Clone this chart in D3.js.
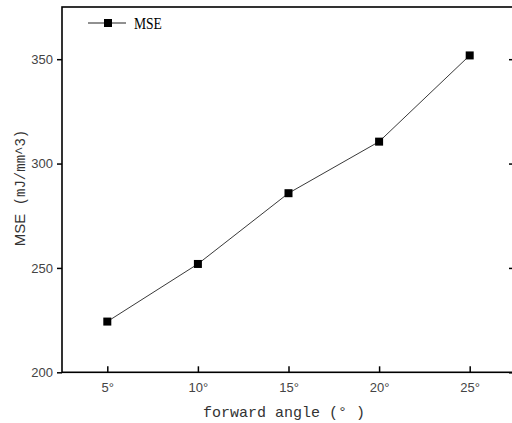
<!DOCTYPE html>
<html>
<head>
<meta charset="utf-8">
<script src="https://cdn.jsdelivr.net/npm/d3@7"></script>
<style>
  html, body { margin: 0; padding: 0; background: #fff; }
  svg { display: block; }
</style>
</head>
<body>
<svg id="chart" width="512" height="423"></svg>
<script>
// Forward angle (degrees) and the corresponding MSE values
const angles = [5, 10, 15, 20, 25];
const mseValues = [224.3, 251.9, 285.8, 310.5, 351.8];
const yTicks = [200, 250, 300, 350];
const xTickLabels = ["5°", "10°", "15°", "20°", "25°"];
const seriesName = "MSE";

const svg = d3.select("#chart");
const frame = { left: 62, top: 7, right: 515, bottom: 372.3 };

const x = d3.scaleLinear().domain([2.5, 27.5]).range([frame.left, frame.right]);
const y = d3.scaleLinear().domain([200, 375]).range([frame.bottom, frame.top]);

const sans = "'Liberation Sans', Arial, sans-serif";
const mono = "'Liberation Mono', 'Noto Sans CJK SC', monospace";

// Left axis: outward ticks
const gLeft = svg.append("g").attr("transform", `translate(${frame.left},0)`)
  .call(d3.axisLeft(y).tickValues(yTicks).tickSize(5).tickPadding(4).tickFormat(d3.format("d")));
gLeft.select(".domain").remove();
gLeft.selectAll(".tick line").attr("stroke", "#000").attr("stroke-width", 1.5);
gLeft.selectAll(".tick text").attr("font-family", sans).attr("font-size", 13).attr("fill", "#444");

// Right axis: inward ticks, no labels
const gRight = svg.append("g").attr("transform", `translate(${frame.right},0)`)
  .call(d3.axisRight(y).tickValues(yTicks).tickSize(-6).tickFormat(""));
gRight.select(".domain").remove();
gRight.selectAll(".tick line").attr("stroke", "#000").attr("stroke-width", 1.5);

// Bottom axis: inward ticks
const gBottom = svg.append("g").attr("transform", `translate(0,${frame.bottom})`)
  .call(d3.axisBottom(x).tickValues(angles).tickSizeInner(-6).tickSizeOuter(0).tickPadding(8)
    .tickFormat((d, i) => xTickLabels[i]));
gBottom.select(".domain").remove();
gBottom.selectAll(".tick line").attr("stroke", "#000").attr("stroke-width", 1.5);
gBottom.selectAll(".tick text").attr("font-family", sans).attr("font-size", 13).attr("fill", "#444")
  .attr("dy", "0.9em");

// Plot frame
svg.append("rect")
  .attr("x", frame.left).attr("y", frame.top)
  .attr("width", frame.right - frame.left).attr("height", frame.bottom - frame.top)
  .attr("fill", "none").attr("stroke", "#000").attr("stroke-width", 1.6);

// Data line
const line = d3.line().x((d, i) => x(angles[i])).y(d => y(d));
svg.append("path").datum(mseValues)
  .attr("d", line).attr("fill", "none").attr("stroke", "#222").attr("stroke-width", 0.9);

// Square markers
const ms = 8;
svg.selectAll("rect.pt").data(mseValues).enter().append("rect")
  .attr("class", "pt")
  .attr("x", (d, i) => x(angles[i]) - ms / 2)
  .attr("y", d => y(d) - ms / 2)
  .attr("width", ms).attr("height", ms).attr("fill", "#000");

// Legend
const lg = svg.append("g");
lg.append("line").attr("x1", 88).attr("x2", 126).attr("y1", 23).attr("y2", 23)
  .attr("stroke", "#222").attr("stroke-width", 1);
lg.append("rect").attr("x", 108 - ms / 2).attr("y", 23 - ms / 2)
  .attr("width", ms).attr("height", ms).attr("fill", "#000");
lg.append("text").attr("x", 134).attr("y", 29)
  .attr("font-family", "'Liberation Serif', 'Times New Roman', serif")
  .attr("font-size", 16).attr("fill", "#000")
  .attr("transform", "translate(134,0) scale(0.85,1) translate(-134,0)")
  .text(seriesName);

// Axis titles
svg.append("text")
  .attr("x", 203).attr("y", 417)
  .attr("font-family", mono).attr("font-size", 15).attr("fill", "#333")
  .text("forward angle (° )");

const yt = svg.append("text")
  .attr("transform", "translate(25,188) rotate(-90)")
  .attr("text-anchor", "middle")
  .attr("font-family", mono).attr("font-size", 14).attr("fill", "#333");
yt.append("tspan").attr("font-family", "'Liberation Sans Narrow', 'Liberation Sans', sans-serif")
  .attr("font-size", 15).text("MSE");
yt.append("tspan").text(" (mJ/mm^3)");
</script>
</body>
</html>
